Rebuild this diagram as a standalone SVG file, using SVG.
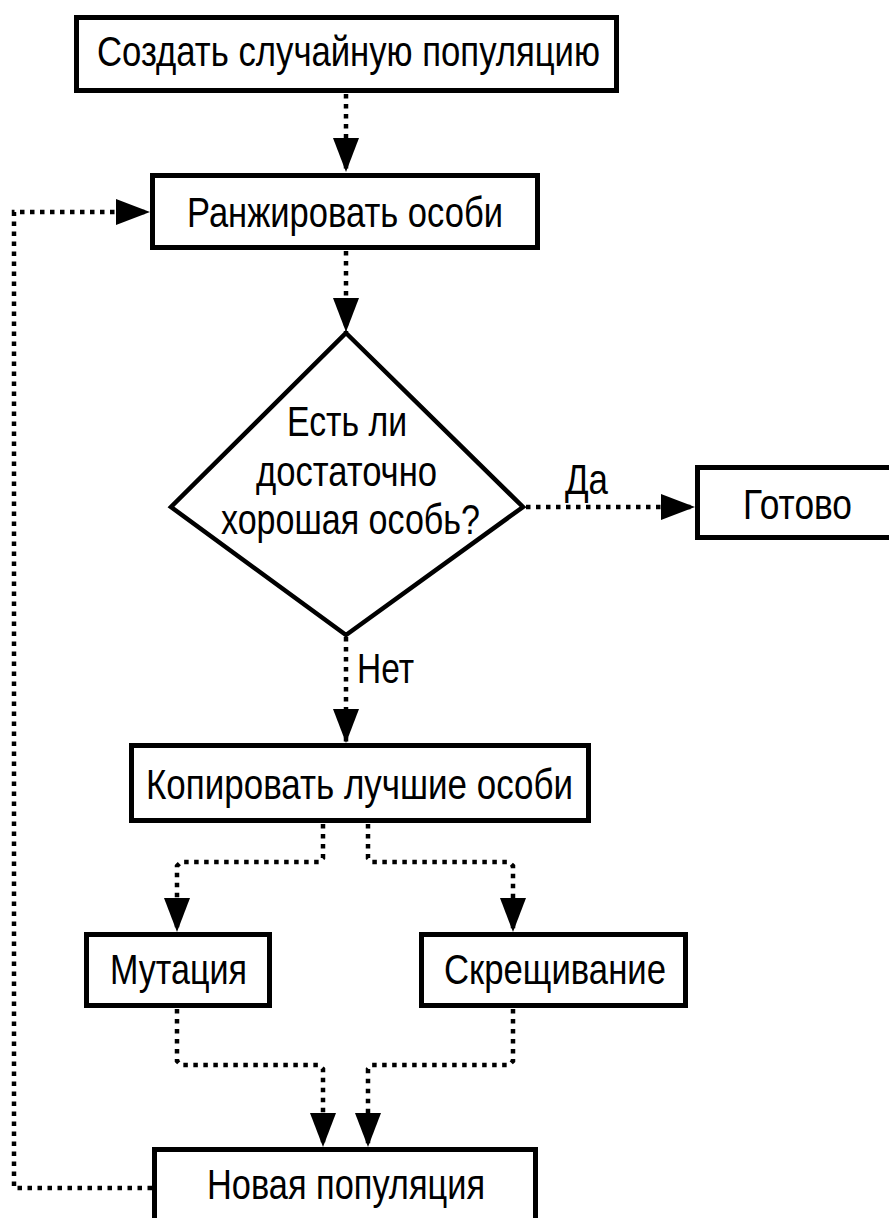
<svg xmlns="http://www.w3.org/2000/svg" width="889" height="1218" viewBox="0 0 889 1218">
<style>
.box{fill:#fff;stroke:#000;stroke-width:5}
.dia{fill:#fff;stroke:#000;stroke-width:4.5;stroke-linejoin:miter}
.t{font-family:"Liberation Sans Narrow","Liberation Sans",Arial,sans-serif;font-size:42px;fill:#000;text-anchor:middle}
.conn{fill:none;stroke:#000;stroke-width:4.5;stroke-dasharray:4.5 5.5}
</style>
<defs>
<marker id="ah" markerUnits="userSpaceOnUse" markerWidth="34" markerHeight="26" viewBox="0 0 34 26" refX="34" refY="13" orient="auto">
<path d="M0,0 L34,13 L0,26 z" fill="#000"/>
</marker>
</defs>
<rect width="889" height="1218" fill="#fff"/>
<g id="connectors">
<path class="conn" d="M346,94 V172" marker-end="url(#ah)"/>
<path class="conn" d="M346,251 V332" marker-end="url(#ah)"/>
<path class="conn" d="M526,507 H695" marker-end="url(#ah)"/>
<path class="conn" d="M346,637 V743" marker-end="url(#ah)"/>
<path class="conn" d="M323,824 V858 L319,862 H181 L177,866 V932" marker-end="url(#ah)"/>
<path class="conn" d="M368,824 V858 L372,862 H509 L513,866 V932" marker-end="url(#ah)"/>
<path class="conn" d="M177,1009 V1061 L181,1065 H319 L323,1069 V1147" marker-end="url(#ah)"/>
<path class="conn" d="M513,1009 V1061 L509,1065 H372 L368,1069 V1147" marker-end="url(#ah)"/>
<path class="conn" d="M152,1188 H14 V212 H150" marker-end="url(#ah)"/>
<text class="t" x="586.5" y="494" textLength="43" lengthAdjust="spacingAndGlyphs">Да</text>
<text class="t" x="385.5" y="683" textLength="57" lengthAdjust="spacingAndGlyphs">Нет</text>
</g>
<g id="n1">
<rect class="box" x="76.5" y="17.5" width="540" height="73"/>
<text class="t" x="348.5" y="66" textLength="503" lengthAdjust="spacingAndGlyphs">Создать случайную популяцию</text>
</g>
<g id="n2">
<rect class="box" x="152.5" y="175.5" width="385" height="72"/>
<text class="t" x="345" y="227" textLength="316" lengthAdjust="spacingAndGlyphs">Ранжировать особи</text>
</g>
<g id="n3">
<polygon class="dia" points="346,333 523,507 346,635 171,507"/>
<text class="t" x="347" y="436" textLength="120" lengthAdjust="spacingAndGlyphs">Есть ли</text>
<text class="t" x="346.5" y="486" textLength="181" lengthAdjust="spacingAndGlyphs">достаточно</text>
<text class="t" x="350.5" y="534" textLength="259" lengthAdjust="spacingAndGlyphs">хорошая особь?</text>
</g>
<g id="n4">
<rect class="box" x="697.5" y="467.5" width="250" height="70"/>
<text class="t" x="797.5" y="519" textLength="109" lengthAdjust="spacingAndGlyphs">Готово</text>
</g>
<g id="n5">
<rect class="box" x="131.5" y="745.5" width="457" height="75"/>
<text class="t" x="359.5" y="799" textLength="427" lengthAdjust="spacingAndGlyphs">Копировать лучшие особи</text>
</g>
<g id="n6">
<rect class="box" x="86.5" y="934.5" width="183" height="71"/>
<text class="t" x="178.5" y="984" textLength="137" lengthAdjust="spacingAndGlyphs">Мутация</text>
</g>
<g id="n7">
<rect class="box" x="421.5" y="934.5" width="264" height="71"/>
<text class="t" x="555" y="984" textLength="222" lengthAdjust="spacingAndGlyphs">Скрещивание</text>
</g>
<g id="n8">
<rect class="box" x="154.5" y="1149.5" width="381" height="100"/>
<text class="t" x="346" y="1199" textLength="278" lengthAdjust="spacingAndGlyphs">Новая популяция</text>
</g>
</svg>
